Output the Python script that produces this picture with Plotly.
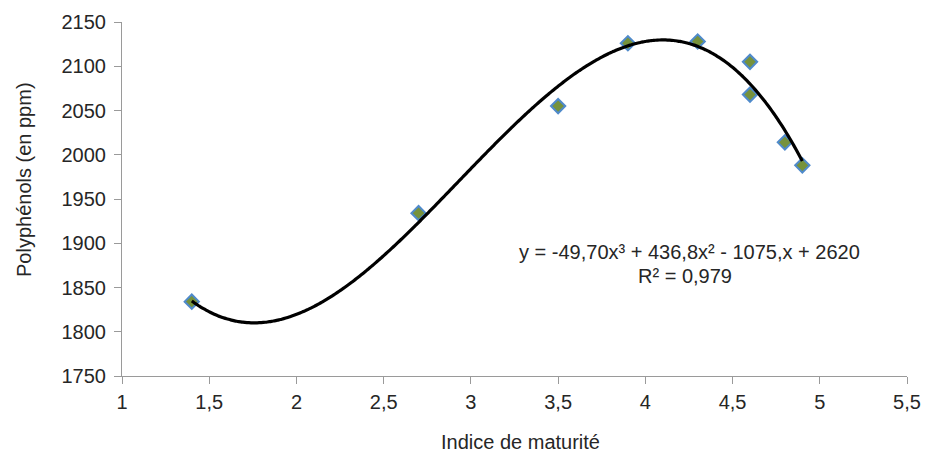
import numpy as np
import plotly.graph_objects as go

# Maturity index vs polyphenol content
maturite = [1.4, 2.7, 3.5, 3.9, 4.3, 4.6, 4.6, 4.8, 4.9]
polyphenols = [1834, 1934, 2055, 2126, 2128, 2105, 2068, 2014, 1988]

# Cubic trendline coefficients (highest degree first) and fit quality
coef = [-49.70, 436.8, -1075.0, 2620.0]
r2 = 0.979

x_ticks = [1, 1.5, 2, 2.5, 3, 3.5, 4, 4.5, 5, 5.5]
x_ticklabels = ["1", "1,5", "2", "2,5", "3", "3,5", "4", "4,5", "5", "5,5"]
y_ticks = [1750, 1800, 1850, 1900, 1950, 2000, 2050, 2100, 2150]

FONT = "Liberation Sans, Arial, Helvetica, sans-serif"
FS = 20
TXT = "#262626"
AXIS = "#9a9a9a"

L, R, T, B = 122, 18, 22, 77
W, H = 925, 453
PW, PH = W - L - R, H - T - B


def px_x(px):
    return (px - L) / PW


def px_y(py):
    return (H - B - py) / PH


xs = np.linspace(min(maturite), max(maturite), 300)
ys = np.polyval(coef, xs)

fig = go.Figure()
# measured points
fig.add_trace(go.Scatter(
    x=maturite, y=polyphenols, mode="markers",
    marker=dict(symbol="diamond", size=11, color="#76923C",
                line=dict(color="#4F8ACB", width=2)),
    showlegend=False, hoverinfo="x+y",
))
# polynomial trendline, drawn on top of the points
fig.add_trace(go.Scatter(
    x=xs, y=ys, mode="lines",
    line=dict(color="black", width=3.2, shape="spline"),
    showlegend=False, hoverinfo="skip",
))

fig.update_layout(
    width=W, height=H,
    margin=dict(l=L, r=R, t=T, b=B, autoexpand=False),
    paper_bgcolor="white", plot_bgcolor="white",
    font=dict(family=FONT, size=FS, color=TXT),
    xaxis=dict(
        range=[1, 5.5], tickvals=x_ticks, ticktext=x_ticklabels, automargin=False,
        showgrid=False, zeroline=False, showline=True, linecolor=AXIS, linewidth=1,
        ticks="outside", ticklen=7, tickcolor=AXIS, tickwidth=1,
        tickfont=dict(family=FONT, size=FS, color=TXT),
        ticklabelstandoff=1,
    ),
    yaxis=dict(
        range=[1750, 2150], tickvals=y_ticks, automargin=False,
        showgrid=False, zeroline=False, showline=True, linecolor=AXIS, linewidth=1,
        ticks="outside", ticklen=7, tickcolor=AXIS, tickwidth=1,
        tickfont=dict(family=FONT, size=FS, color=TXT),
        ticklabelstandoff=4,
    ),
)

eq = "y = {:.2f}x³ + {:.1f}x² - {:.0f},x + {:.0f}".format(coef[0], coef[1], -coef[2], coef[3])
eq = eq.replace(".", ",")
fig.add_annotation(text=eq, xref="paper", yref="paper", x=px_x(689), y=px_y(252),
                   showarrow=False, xanchor="center", yanchor="middle",
                   font=dict(family=FONT, size=FS, color=TXT))
fig.add_annotation(text="R² = " + f"{r2:.3f}".replace(".", ","), xref="paper", yref="paper",
                   x=px_x(685), y=px_y(276), showarrow=False, xanchor="center", yanchor="middle",
                   font=dict(family=FONT, size=FS, color=TXT))

# Axis titles
fig.add_annotation(text="Indice de maturité", xref="paper", yref="paper",
                   x=px_x(520), y=px_y(442), showarrow=False,
                   xanchor="center", yanchor="middle",
                   font=dict(family=FONT, size=FS, color=TXT))
fig.add_annotation(text="Polyphénols (en ppm)", xref="paper", yref="paper",
                   x=px_x(24), y=px_y(180), showarrow=False,
                   textangle=-90, xanchor="center", yanchor="middle",
                   font=dict(family=FONT, size=FS, color=TXT))

fig.write_html("out.html")
